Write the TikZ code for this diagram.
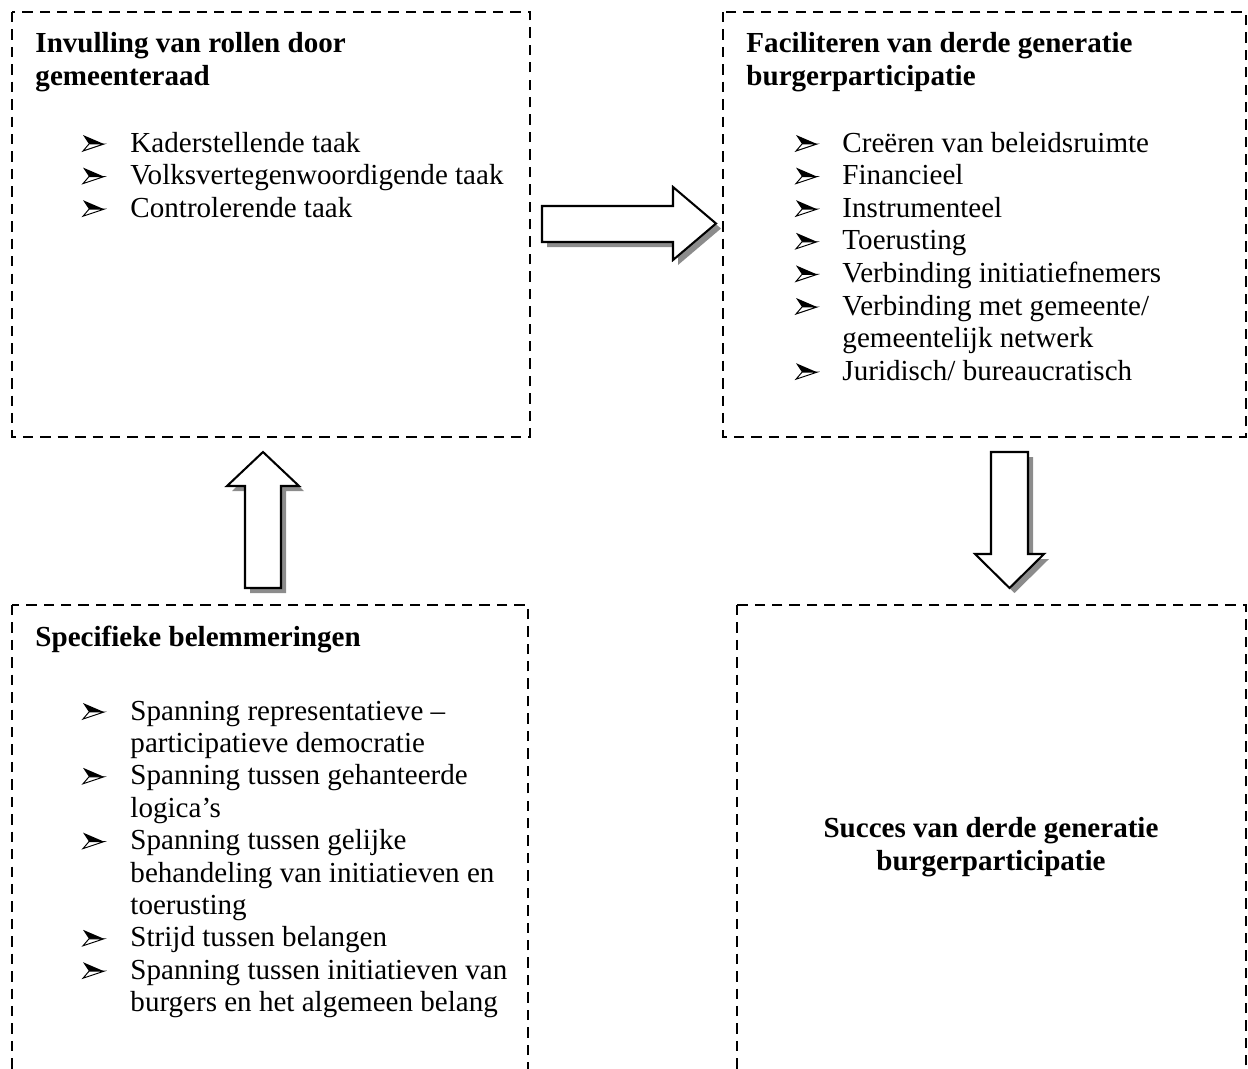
\documentclass[tikz,border=0pt]{standalone}
\usepackage{fontspec}
\setmainfont{Liberation Serif}
\tikzset{
  box/.style={line width=1.2pt, dash pattern=on 4.3pt off 2.9pt},
  ttl/.style={anchor=base west, inner sep=0pt, font=\fontsize{12}{14}\selectfont\bfseries},
  ctl/.style={anchor=base, inner sep=0pt, font=\fontsize{12}{14}\selectfont\bfseries},
  itm/.style={anchor=base west, inner sep=0pt, font=\fontsize{12}{14}\selectfont},
  blk/.style={draw=black, line width=0.85pt, fill=white, line join=miter},
  shd/.style={fill=black!45, draw=none},
  pics/arrbul/.style={code={
     \fill[black] (0,-17) -- (21,-8) -- (6,-8) -- cycle;
     \draw[line width=0.4pt, fill=white, line join=miter] (6,-8) -- (21,-8) -- (0,-1) -- cycle;
  }}
}
\begin{document}
\begin{tikzpicture}[x=0.413pt, y=-0.413pt]
\useasboundingbox (0,0) rectangle (1248,1068);
% boxes
\draw[box] (12,12) rectangle (530,437);
\draw[box] (723,12) rectangle (1246,437);
\draw[box] (12,605) rectangle (528,1095);
\draw[box] (737,605) rectangle (1246,1095);

% box 1
\node[ttl] (t1a) at (35,52) {Invulling van rollen door};
\node[ttl] (t1b) at (35,85) {gemeenteraad};
\foreach \i/\txt in {0/{Kaderstellende taak}, 1/{Volksvertegenwoordigende taak}, 2/{Controlerende taak}}{
  \pic at (83,152+32.6*\i) {arrbul};
  \node[itm] (a\i) at (130,152+32.6*\i) {\txt};
}

% box 2
\node[ttl] (t2a) at (746,52) {Faciliteren van derde generatie};
\node[ttl] (t2b) at (746,85) {burgerparticipatie};
\foreach \i/\txt in {0/{Creëren van beleidsruimte}, 1/{Financieel}, 2/{Instrumenteel}, 3/{Toerusting}, 4/{Verbinding initiatiefnemers}, 5/{Verbinding met gemeente/}, 6/{gemeentelijk netwerk}, 7/{Juridisch/ bureaucratisch}}{
  \node[itm] (b\i) at (842,152+32.6*\i) {\txt};
}
\foreach \i in {0,1,2,3,4,5,7}{
  \pic at (796,152+32.6*\i) {arrbul};
}

% box 3
\node[ttl] (t3) at (35,646) {Specifieke belemmeringen};
\foreach \i/\txt in {0/{Spanning representatieve –}, 1/{participatieve democratie}, 2/{Spanning tussen gehanteerde}, 3/{logica’s}, 4/{Spanning tussen gelijke}, 5/{behandeling van initiatieven en}, 6/{toerusting}, 7/{Strijd tussen belangen}, 8/{Spanning tussen initiatieven van}, 9/{burgers en het algemeen belang}}{
  \node[itm] (c\i) at (130,720+32.4*\i) {\txt};
}
\foreach \i in {0,2,4,7,8}{
  \pic at (83,720+32.4*\i) {arrbul};
}

% box 4
\node[ctl] (t4a) at (991,837) {Succes van derde generatie};
\node[ctl] (t4b) at (991,870) {burgerparticipatie};

% block arrows: right
\fill[shd, shift={(5,5)}] (542,206) -- (673,206) -- (673,187) -- (716,223.5) -- (673,260) -- (673,242) -- (542,242) -- cycle;
\draw[blk] (542,206) -- (673,206) -- (673,187) -- (716,223.5) -- (673,260) -- (673,242) -- (542,242) -- cycle;
% up
\fill[shd, shift={(5,5)}] (245,588) -- (245,486) -- (227,486) -- (263,452) -- (299,486) -- (281,486) -- (281,588) -- cycle;
\draw[blk] (245,588) -- (245,486) -- (227,486) -- (263,452) -- (299,486) -- (281,486) -- (281,588) -- cycle;
% down
\fill[shd, shift={(5,5)}] (991,452) -- (1028,452) -- (1028,554) -- (1044,554) -- (1009.5,588) -- (975,554) -- (991,554) -- cycle;
\draw[blk] (991,452) -- (1028,452) -- (1028,554) -- (1044,554) -- (1009.5,588) -- (975,554) -- (991,554) -- cycle;
\end{tikzpicture}
\end{document}
